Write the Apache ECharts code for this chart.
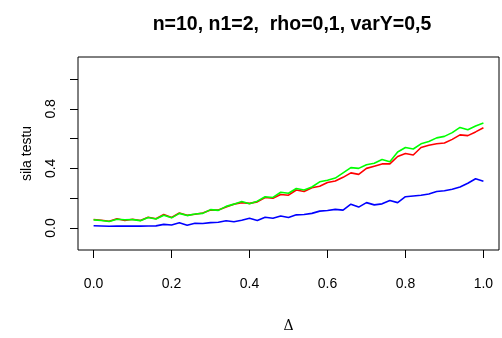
<!DOCTYPE html>
<html>
<head>
<meta charset="utf-8">
<script src="https://cdn.jsdelivr.net/npm/echarts@6/dist/echarts.min.js"></script>
<style>
  html, body { margin: 0; padding: 0; background: #fff; }
  #chart { width: 502px; height: 338px; }
</style>
</head>
<body>
<div id="chart"></div>
<script>
// delta grid 0..1 step 0.02
const delta = [0.00, 0.02, 0.04, 0.06, 0.08, 0.10, 0.12, 0.14, 0.16, 0.18,
  0.20, 0.22, 0.24, 0.26, 0.28, 0.30, 0.32, 0.34, 0.36, 0.38,
  0.40, 0.42, 0.44, 0.46, 0.48, 0.50, 0.52, 0.54, 0.56, 0.58,
  0.60, 0.62, 0.64, 0.66, 0.68, 0.70, 0.72, 0.74, 0.76, 0.78,
  0.80, 0.82, 0.84, 0.86, 0.88, 0.90, 0.92, 0.94, 0.96, 0.98, 1.00];

const powerBlue = [0.015, 0.013, 0.011, 0.013, 0.012, 0.013, 0.012, 0.013, 0.014, 0.024,
  0.020, 0.035, 0.018, 0.031, 0.030, 0.036, 0.038, 0.048, 0.042, 0.052,
  0.065, 0.050, 0.072, 0.065, 0.080, 0.070, 0.088, 0.090, 0.098, 0.113,
  0.117, 0.125, 0.120, 0.160, 0.140, 0.170, 0.155, 0.162, 0.185, 0.170,
  0.210, 0.215, 0.220, 0.228, 0.245, 0.250, 0.260, 0.275, 0.300, 0.330, 0.314];

const powerRed = [0.057, 0.052, 0.045, 0.062, 0.050, 0.058, 0.050, 0.072, 0.062, 0.090,
  0.070, 0.100, 0.085, 0.092, 0.100, 0.120, 0.120, 0.140, 0.160, 0.170,
  0.165, 0.175, 0.205, 0.200, 0.225, 0.220, 0.255, 0.245, 0.270, 0.280,
  0.305, 0.315, 0.340, 0.370, 0.360, 0.400, 0.415, 0.430, 0.430, 0.480,
  0.500, 0.490, 0.540, 0.555, 0.565, 0.570, 0.595, 0.625, 0.620, 0.645, 0.673];

const powerGreen = [0.054, 0.050, 0.043, 0.058, 0.055, 0.056, 0.049, 0.070, 0.060, 0.085,
  0.068, 0.098, 0.083, 0.094, 0.098, 0.123, 0.118, 0.145, 0.160, 0.178,
  0.163, 0.180, 0.210, 0.205, 0.240, 0.233, 0.265, 0.255, 0.275, 0.310,
  0.320, 0.335, 0.370, 0.405, 0.400, 0.425, 0.435, 0.460, 0.445, 0.510,
  0.540, 0.530, 0.565, 0.580, 0.605, 0.615, 0.640, 0.675, 0.660, 0.685, 0.705];

const xTicks = [0, 0.2, 0.4, 0.6, 0.8, 1.0];
const yTicks = [0, 0.2, 0.4, 0.6, 0.8, 1.0];
const yLabelTicks = [0, 0.4, 0.8];

const pairs = ys => delta.map((d, i) => [d, ys[i]]);

const chart = echarts.init(document.getElementById('chart'), null, { renderer: 'canvas' });

const font = 'Liberation Sans, Arial, sans-serif';

chart.setOption({
  animation: false,
  backgroundColor: '#ffffff',
  title: {
    text: 'n=10, n1=2,  rho=0,1, varY=0,5',
    left: 287,
    top: 10,
    textAlign: 'center',
    textStyle: { fontFamily: font, fontSize: 19.5, fontWeight: 'bold', color: '#000' }
  },
  grid: {
    left: 78, right: 3, top: 57, bottom: 82,
    show: true, borderColor: '#000', borderWidth: 1, backgroundColor: 'transparent'
  },
  xAxis: {
    type: 'value',
    min: -0.04, max: 1.04,
    name: 'Δ',
    nameLocation: 'middle',
    nameGap: 69,
    nameTextStyle: { fontFamily: 'DejaVu Serif, Liberation Serif, serif', fontSize: 14, color: '#000' },
    axisLine: { show: false, onZero: false },
    splitLine: { show: false },
    axisTick: { show: true, inside: false, length: 8, customValues: xTicks, lineStyle: { color: '#000' } },
    axisLabel: {
      customValues: xTicks, margin: 27,
      fontFamily: font, fontSize: 14, color: '#000',
      formatter: v => v.toFixed(1)
    }
  },
  yAxis: {
    type: 'value',
    min: -0.148, max: 1.148,
    name: 'sila testu',
    nameLocation: 'middle',
    nameGap: 44,
    nameRotate: 90,
    nameTextStyle: { fontFamily: font, fontSize: 14, color: '#000' },
    axisLine: { show: false, onZero: false },
    splitLine: { show: false },
    axisTick: { show: true, inside: false, length: 8, customValues: yTicks, lineStyle: { color: '#000' } },
    axisLabel: {
      customValues: yLabelTicks, margin: 20, rotate: 90,
      fontFamily: font, fontSize: 14, color: '#000',
      formatter: v => v.toFixed(1)
    }
  },
  series: [
    { name: 'blue', type: 'line', data: pairs(powerBlue), showSymbol: false, lineStyle: { color: '#0000ff', width: 1.6 } },
    { name: 'red', type: 'line', data: pairs(powerRed), showSymbol: false, lineStyle: { color: '#ff0000', width: 1.6 } },
    { name: 'green', type: 'line', data: pairs(powerGreen), showSymbol: false, lineStyle: { color: '#00ff00', width: 1.6 } }
  ]
});
</script>
</body>
</html>
